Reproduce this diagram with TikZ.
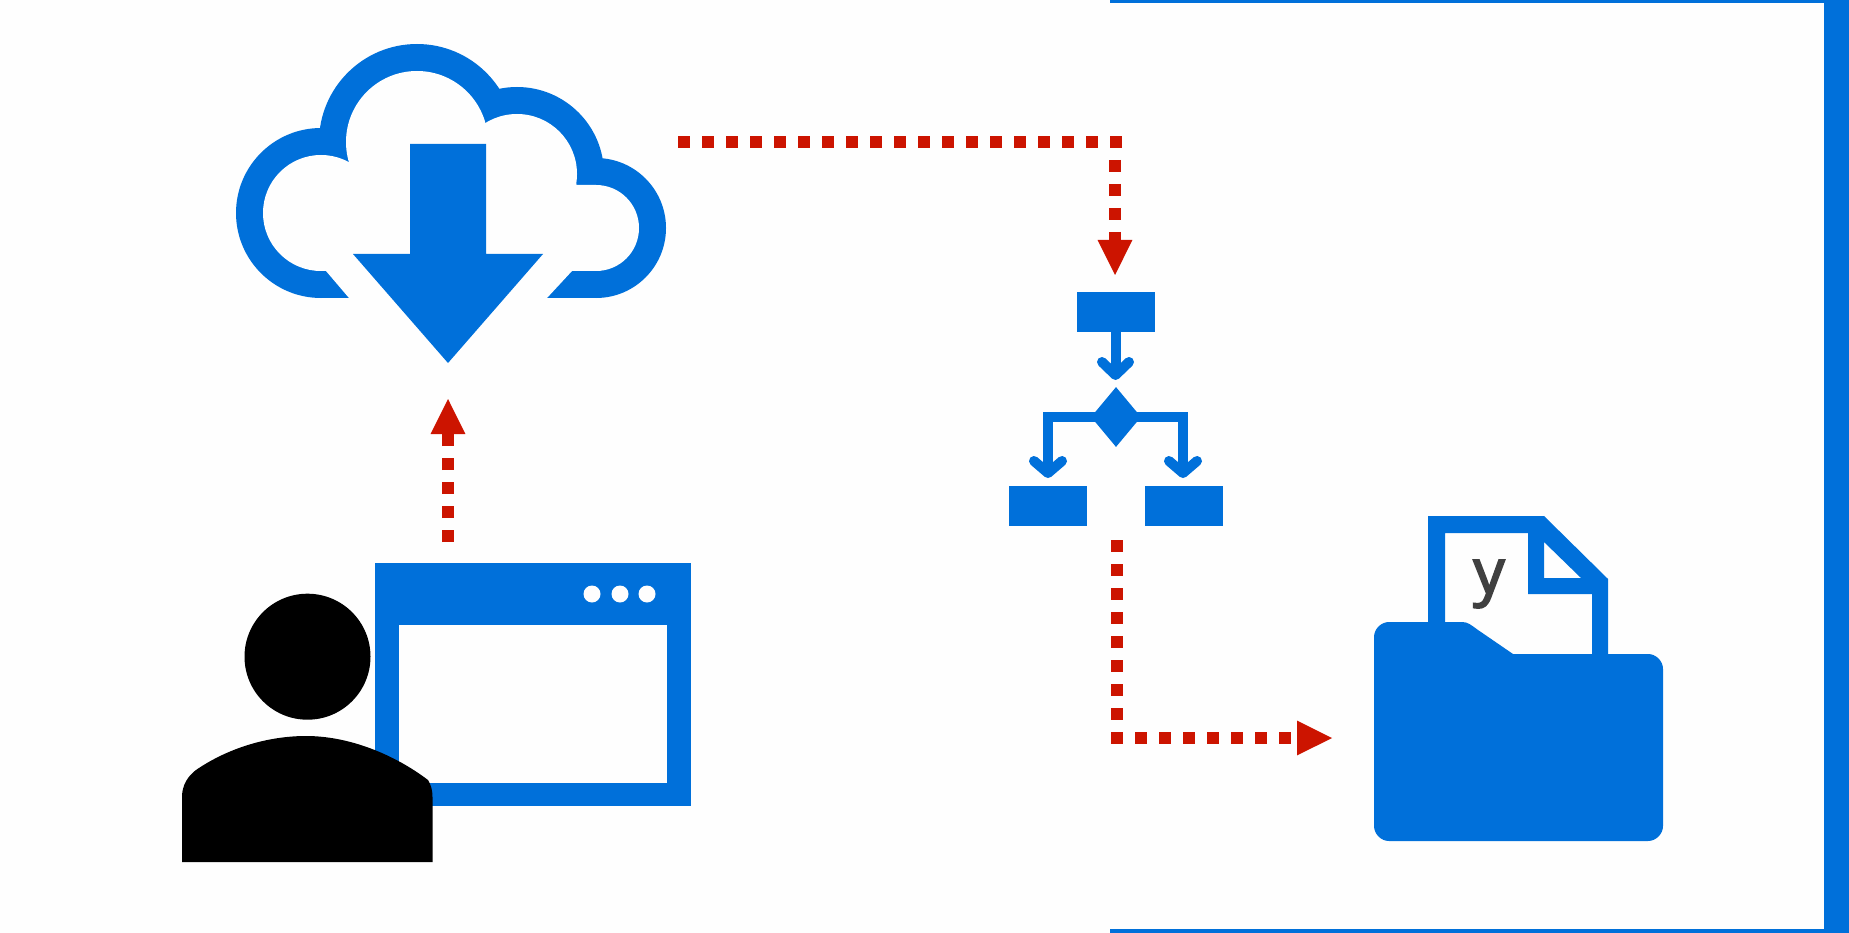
\documentclass[tikz,border=0pt]{standalone}
\usepackage{fontspec}
\setmainfont{Open Sans}
\newfontfamily\labelfont[FakeBold=3]{Open Sans}
\usetikzlibrary{arrows.meta,shapes.geometric}
\definecolor{iconblue}{RGB}{0,112,218}
\definecolor{flowred}{RGB}{204,20,0}
\definecolor{inkgrey}{RGB}{64,64,64}
\definecolor{paper}{RGB}{254,254,254}
\tikzset{
  icon/.style={fill=iconblue,draw=none},
  hole/.style={fill=paper,draw=none},
  person/.style={fill=black,draw=none},
  flowbox/.style={rectangle,fill=iconblue,draw=none,inner sep=0pt,minimum width=78pt,minimum height=40pt},
  flowdiamond/.style={diamond,fill=iconblue,draw=none,inner sep=0pt,minimum width=50pt,minimum height=60pt},
  flowline/.style={draw=iconblue,line width=10pt,line join=miter},
  flowbarb/.style={draw=iconblue,line width=10pt,line cap=round,line join=round},
  reddash/.style={draw=flowred,line width=12pt,dash pattern=on 12pt off 12pt},
  redlink/.style={reddash,-{Triangle[length=36pt,width=32pt,fill=flowred]}}
}
\begin{document}
\begin{tikzpicture}[x=1pt,y=-1pt]
\useasboundingbox (0,0) rectangle (1849,933);
\fill[paper] (0,0) rectangle (1849,933);
% frame
\fill[icon] (1110,0) rectangle (1849,3);
\fill[icon] (1110,929) rectangle (1849,933);
\fill[icon] (1824,0) rectangle (1849,933);

% cloud: outer lobes, then inner lobes cut out of them
\fill[icon] (321,213) circle (85);
\fill[icon] (417,142) circle (98);
\fill[icon] (517,174) circle (87);
\fill[icon] (596,228) circle (70);
\fill[icon] (321,180) rectangle (596,298);
\fill[hole] (321,213) circle (58);
\fill[hole] (417,142) circle (71);
\fill[hole] (517,174) circle (60);
\fill[hole] (596,228) circle (43);
\fill[hole] (321,200) -- (360,150) -- (480,130) -- (570,160) -- (576.5,185) -- (596,185) -- (596,271)
  -- (572,271) -- (547,298) -- (547,300) -- (349,300) -- (349,298) -- (326,271) -- (321,271) -- cycle;
\fill[icon] (410,144) -- (486,144) -- (486,254) -- (543,254) -- (448,363) -- (353,254) -- (410,254) -- cycle;

% browser window
\fill[icon] (375,563) rectangle (691,806);
\fill[hole] (399,625) rectangle (667,783);
\fill[hole] (592,594) circle (8.5);
\fill[hole] (620,594) circle (8.5);
\fill[hole] (647,594) circle (8.5);

% person
\fill[person] (307.5,656.7) ellipse [x radius=63,y radius=63];
\fill[person] (182,862) -- (182,797) .. controls (182,785) and (188,776) .. (196,770)
  .. controls (228,748) and (268,736) .. (306,736)
  .. controls (350,736) and (395,755) .. (428,780)
  .. controls (431,785) and (432.5,790) .. (432.5,797) -- (432.5,862) -- cycle;

% document and folder
\fill[icon,even odd rule] (1428,516) -- (1544,516) -- (1608,579) -- (1608,660) -- (1592,660)
  -- (1592,594) -- (1528,594) -- (1528,533) -- (1445,533) -- (1445,630) -- (1428,630) -- cycle
  (1544,542) -- (1581,578) -- (1544,578) -- cycle;
\fill[icon] (1389,622) -- (1462,622) .. controls (1468,622) and (1471,625) .. (1478,630)
  -- (1513,654) -- (1648,654)
  .. controls (1656,654) and (1663,661) .. (1663,669) -- (1663,826)
  .. controls (1663,834) and (1656,841) .. (1648,841) -- (1389,841)
  .. controls (1381,841) and (1374,834) .. (1374,826) -- (1374,637)
  .. controls (1374,629) and (1381,622) .. (1389,622) -- cycle;
\node[text=inkgrey,inner sep=0pt,font=\labelfont\fontsize{62}{62}\selectfont] (ylabel) at (1489,584) {y};

% flowchart
\node[flowbox] (start) at (1115.5,311.5) {};
\node[flowdiamond] (decision) at (1116,417) {};
\node[flowbox] (leftbox) at (1047.5,505.5) {};
\node[flowbox] (rightbox) at (1183.5,505.5) {};
\coordinate (tipA) at (1115.5,375);
\coordinate (tipB) at (1048,473);
\coordinate (tipC) at (1183,473);
\draw[flowline] (start.south) -- (tipA);
\draw[flowline] (decision.center) -| (tipB);
\draw[flowline] (decision.center) -| (tipC);
\draw[flowbarb] (1102,362) -- (tipA) -- (1129,362);
\draw[flowbarb] (1034,461) -- (tipB) -- (1062,461);
\draw[flowbarb] (1169,461) -- (tipC) -- (1197,461);

% red connectors
\coordinate (upfrom) at (448,542);
\coordinate (upto) at (448,398);
\coordinate (cloudout) at (678,142);
\coordinate (bendAend) at (1122,142);
\coordinate (bendAstart) at (1115,160);
\coordinate (flowin) at (1115,276);
\coordinate (flowout) at (1117,540);
\coordinate (bendBend) at (1117,720);
\coordinate (bendBstart) at (1111,738);
\coordinate (folderin) at (1333,738);
\draw[redlink] (upfrom) -- (upto);
\draw[reddash] (cloudout) -- (bendAend);
\draw[redlink] (bendAstart) -- (flowin);
\draw[reddash] (flowout) -- (bendBend);
\draw[redlink] (bendBstart) -- (folderin);
\end{tikzpicture}
\end{document}
